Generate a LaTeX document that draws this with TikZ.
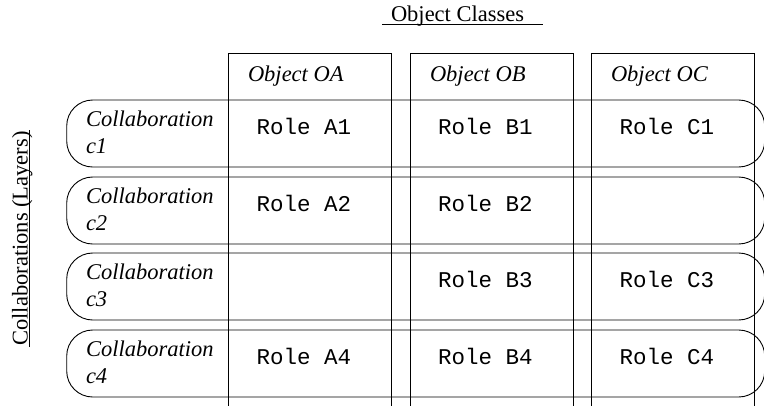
\documentclass[tikz,border=0pt]{standalone}
\usepackage{fontspec}
\setmainfont{Liberation Serif}
\setmonofont{Liberation Mono}
\begin{document}
\begin{tikzpicture}[x=1pt,y=-1pt,
  every node/.style={inner sep=0pt,outer sep=0pt},
  col/.style={draw,line width=0.9pt,minimum width=163pt,minimum height=367pt,anchor=north west},
  band/.style={draw,line width=0.9pt,rounded corners=26pt,minimum width=698pt,minimum height=67pt,anchor=north west},
  hdr/.style={anchor=base west,font=\fontsize{22.5}{27}\selectfont\itshape},
  collab/.style={anchor=base west,font=\fontsize{22.5}{27}\selectfont\itshape},
  role/.style={anchor=base west,font=\fontsize{22.5}{27}\selectfont\ttfamily},
  title/.style={font=\fontsize{22.5}{27}\selectfont}
]
\useasboundingbox (0,0) rectangle (764,405);
\clip (0,0) rectangle (764,405);
% columns
\node[col] (colA) at (228.3,53) {};
\node[col] (colB) at (410,53) {};
\node[col] (colC) at (591.3,53) {};
% bands
\node[band] (c1) at (66.7,100) {};
\node[band] (c2) at (66.7,177) {};
\node[band] (c3) at (66.7,253) {};
\node[band] (c4) at (66.7,330) {};
% headers
\node[hdr] (hA) at (248,81.7) {Object OA};
\node[hdr] (hB) at (430,81.7) {Object OB};
\node[hdr] (hC) at (611,81.7) {Object OC};
% collaboration labels
\node[collab] (l1a) at (86,126) {Collaboration};
\node[collab] (l1b) at (86,153) {c1};
\node[collab] (l2a) at (86,203) {Collaboration};
\node[collab] (l2b) at (86,230) {c2};
\node[collab] (l3a) at (86,279) {Collaboration};
\node[collab] (l3b) at (86,306) {c3};
\node[collab] (l4a) at (86,356) {Collaboration};
\node[collab] (l4b) at (86,383) {c4};
% roles
\node[role] (rA1) at (256.5,134.3) {Role A1};
\node[role] (rB1) at (438,134.3) {Role B1};
\node[role] (rC1) at (619.5,134.3) {Role C1};
\node[role] (rA2) at (256.5,211.3) {Role A2};
\node[role] (rB2) at (438,211.3) {Role B2};
\node[role] (rB3) at (438,287.3) {Role B3};
\node[role] (rC3) at (619.5,287.3) {Role C3};
\node[role] (rA4) at (256.5,364.3) {Role A4};
\node[role] (rB4) at (438,364.3) {Role B4};
\node[role] (rC4) at (619.5,364.3) {Role C4};
% titles
\node[title,anchor=base west] (oc) at (391,21.7) {Object Classes};
\coordinate (ocL) at (382,24.3);
\coordinate (ocR) at (543,24.3);
\draw[line width=0.8pt] (ocL) -- (ocR);
\node[title,anchor=base,rotate=90] (cl) at (27.5,238.5) {Collaborations (Layers)};
\coordinate (clT) at (29,130);
\coordinate (clB) at (29,347);
\draw[line width=0.8pt] (clB) -- (clT);
\end{tikzpicture}
\end{document}
